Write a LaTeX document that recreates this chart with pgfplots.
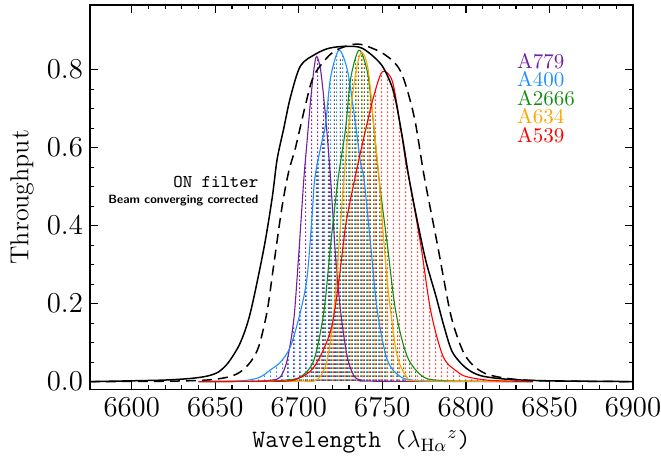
\documentclass[border=0pt]{standalone}
\usepackage{pgfplots}
\usepackage{pgfplotstable}
\pgfplotsset{compat=1.18}
\usetikzlibrary{patterns}
\definecolor{cpurple}{RGB}{112,32,160}
\definecolor{cblue}{RGB}{30,144,255}
\definecolor{cgreen}{RGB}{20,140,20}
\definecolor{corange}{RGB}{255,165,0}
\definecolor{cred}{RGB}{255,0,0}

\pgfdeclarepatternformonly{vdA}{\pgfqpoint{0pt}{0pt}}{\pgfqpoint{3pt}{2pt}}{\pgfqpoint{3pt}{2pt}}{\pgfpathrectangle{\pgfqpoint{0.0pt}{0pt}}{\pgfqpoint{0.55pt}{0.8pt}}\pgfusepath{fill}}
\pgfdeclarepatternformonly{vdB}{\pgfqpoint{0pt}{0pt}}{\pgfqpoint{3pt}{2pt}}{\pgfqpoint{3pt}{2pt}}{\pgfpathrectangle{\pgfqpoint{0.5pt}{0pt}}{\pgfqpoint{0.55pt}{0.8pt}}\pgfusepath{fill}}
\pgfdeclarepatternformonly{vdC}{\pgfqpoint{0pt}{0pt}}{\pgfqpoint{3pt}{2pt}}{\pgfqpoint{3pt}{2pt}}{\pgfpathrectangle{\pgfqpoint{1.0pt}{0pt}}{\pgfqpoint{0.55pt}{0.8pt}}\pgfusepath{fill}}
\pgfdeclarepatternformonly{vdD}{\pgfqpoint{0pt}{0pt}}{\pgfqpoint{3pt}{2pt}}{\pgfqpoint{3pt}{2pt}}{\pgfpathrectangle{\pgfqpoint{1.5pt}{0pt}}{\pgfqpoint{0.55pt}{0.8pt}}\pgfusepath{fill}}
\pgfdeclarepatternformonly{vdE}{\pgfqpoint{0pt}{0pt}}{\pgfqpoint{3pt}{2pt}}{\pgfqpoint{3pt}{2pt}}{\pgfpathrectangle{\pgfqpoint{2.0pt}{0pt}}{\pgfqpoint{0.55pt}{0.8pt}}\pgfusepath{fill}}
\pgfdeclarepatternformonly{vdF}{\pgfqpoint{0pt}{0pt}}{\pgfqpoint{3pt}{2pt}}{\pgfqpoint{3pt}{2pt}}{\pgfpathrectangle{\pgfqpoint{2.45pt}{0pt}}{\pgfqpoint{0.45pt}{0.8pt}}\pgfusepath{fill}}

\pgfplotstableread{
x y
6575 0.000
6600 0.002
6620 0.004
6635 0.008
6645 0.014
6652 0.025
6658 0.050
6665 0.100
6671 0.177
6679 0.340
6684 0.470
6687 0.570
6691 0.650
6695 0.730
6701 0.810
6710 0.840
6718 0.855
6728 0.860
6738 0.855
6749 0.815
6755 0.765
6758 0.720
6761 0.650
6763 0.600
6766 0.520
6771 0.410
6776 0.310
6782 0.220
6787 0.140
6792 0.075
6800 0.035
6809 0.015
6825 0.006
6850 0.002
6900 0.000
}\onfilter

\pgfplotstableread{
x y
6575 0.000
6620 0.001
6645 0.004
6658 0.012
6665 0.025
6671 0.050
6676 0.090
6681 0.180
6685 0.300
6690 0.450
6694 0.540
6698 0.600
6704 0.710
6709 0.785
6719 0.840
6728 0.860
6737 0.865
6751 0.840
6761 0.795
6769 0.680
6775 0.527
6783 0.350
6791 0.170
6798 0.080
6804 0.043
6812 0.020
6825 0.008
6845 0.002
6900 0.000
}\onbeam

\pgfplotstableread{
x y
6640 0.000
6675 0.001
6684 0.004
6689 0.012
6693 0.055
6697 0.160
6700 0.330
6703 0.520
6705 0.620
6707 0.720
6709 0.800
6710.6 0.834
6713 0.800
6716 0.680
6719 0.520
6722 0.320
6725 0.180
6729 0.063
6733 0.015
6737 0.004
6745 0.001
6840 0.000
}\fA

\pgfplotstableread{
x y
6640 0.000
6660 0.001
6670 0.004
6677 0.012
6683 0.030
6689 0.050
6695 0.090
6701 0.180
6705 0.270
6708 0.430
6709.5 0.520
6713 0.600
6716 0.660
6719 0.780
6724 0.850
6729 0.800
6733 0.690
6737 0.560
6739 0.520
6743 0.350
6747 0.180
6753 0.055
6761 0.012
6770 0.003
6780 0.001
6840 0.000
}\fB

\pgfplotstableread{
x y
6640 0.000
6680 0.001
6692 0.004
6701 0.012
6709 0.055
6715 0.180
6719 0.350
6723.5 0.520
6728 0.650
6731 0.777
6736 0.850
6741 0.795
6744 0.690
6748 0.520
6753 0.350
6758 0.180
6765 0.063
6774.5 0.012
6785 0.003
6800 0.001
6840 0.000
}\fC

\pgfplotstableread{
x y
6640 0.000
6700 0.001
6711 0.005
6717 0.055
6721 0.180
6724 0.350
6727 0.520
6730 0.660
6734 0.790
6737.5 0.845
6741.5 0.800
6745 0.650
6748 0.520
6752 0.300
6755 0.180
6759 0.063
6765 0.010
6772 0.002
6840 0.000
}\fD

\pgfplotstableread{
x y
6640 0.000
6680 0.001
6697 0.004
6709 0.037
6719 0.130
6724 0.260
6728 0.400
6732.5 0.500
6737 0.590
6741 0.665
6745 0.735
6750 0.795
6756 0.770
6761 0.648
6764 0.563
6766 0.520
6773 0.350
6779 0.180
6786.5 0.063
6795 0.025
6801 0.012
6815 0.003
6840 0.000
}\fE

\pgfplotstableread{
x y
6707 0.000
6708 0.450
6712 0.620
6716 0.700
6720 0.800
6724 0.840
6728 0.800
6732 0.780
6736 0.840
6740 0.810
6744 0.700
6748 0.520
6750 0.450
6751 0.000
}\fK

\begin{document}
\begin{tikzpicture}
\begin{axis}[
  name=ax,
  scale only axis, width=271.5pt, height=192.2pt,
  xmin=6575, xmax=6900, ymin=-0.02, ymax=0.966,
  xtick={6600,6650,6700,6750,6800,6850,6900}, minor x tick num=4,
  ytick={0,0.2,0.4,0.6,0.8}, minor y tick num=3,
  tick pos=both, tick align=inside,
  major tick length=4pt, minor tick length=2pt,
  axis line style={line width=0.75pt},
  tick style={black, line width=0.6pt},
  tick label style={font=\fontsize{13.5}{15}\selectfont},
  yticklabel style={/pgf/number format/.cd, fixed, fixed zerofill, precision=1},
  xticklabel style={/pgf/number format/1000 sep={}, yshift=-3pt, inner sep=1pt},
  xlabel={Wavelength ($\lambda_{\mathrm{H}\alpha}{}^{z}$)},
  xlabel style={at={(axis description cs:0.5,-0.135)}, anchor=center, inner sep=0pt, font=\ttfamily\fontsize{12.5}{14}\selectfont},
  ylabel={Throughput},
  ylabel style={at={(axis description cs:-0.125,0.5)}, anchor=center, font=\fontsize{13}{15}\selectfont},
]
\addplot[draw=none, pattern=vdF, pattern color=black!70] table[x=x,y=y] {\fK} \closedcycle;
\addplot[draw=none, smooth, pattern=vdA, pattern color=cpurple] table[x=x,y=y] {\fA} \closedcycle;
\addplot[draw=none, smooth, pattern=vdB, pattern color=cblue] table[x=x,y=y] {\fB} \closedcycle;
\addplot[draw=none, smooth, pattern=vdC, pattern color=cgreen] table[x=x,y=y] {\fC} \closedcycle;
\addplot[draw=none, smooth, pattern=vdD, pattern color=corange] table[x=x,y=y] {\fD} \closedcycle;
\addplot[draw=none, smooth, pattern=vdE, pattern color=cred!75] table[x=x,y=y] {\fE} \closedcycle;

\addplot[cpurple, line width=0.55pt, smooth] table[x=x,y=y] {\fA};
\addplot[cblue, line width=0.55pt, smooth] table[x=x,y=y] {\fB};
\addplot[cgreen, line width=0.55pt, smooth] table[x=x,y=y] {\fC};
\addplot[corange, line width=0.55pt, smooth] table[x=x,y=y] {\fD};
\addplot[cred, line width=0.55pt, smooth] table[x=x,y=y] {\fE};
\addplot[black, line width=0.75pt, smooth] table[x=x,y=y] {\onfilter};
\addplot[black, line width=0.75pt, smooth, dash pattern=on 5pt off 3pt] table[x=x,y=y] {\onbeam};

\node[anchor=base east, font=\ttfamily\fontsize{9}{10}\selectfont] at (axis cs:6680,0.499) {ON filter};
\node[anchor=base east, font=\sffamily\bfseries\fontsize{6}{7}\selectfont] at (axis cs:6680,0.457) {Beam converging corrected};

\node[anchor=base west, text=cpurple, font=\fontsize{10.5}{11}\selectfont, inner sep=0pt] at (axis cs:6830.4,0.804) {A779};
\node[anchor=base west, text=cblue, font=\fontsize{10.5}{11}\selectfont, inner sep=0pt] at (axis cs:6830.4,0.756) {A400};
\node[anchor=base west, text=cgreen, font=\fontsize{10.5}{11}\selectfont, inner sep=0pt] at (axis cs:6830.4,0.709) {A2666};
\node[anchor=base west, text=corange, font=\fontsize{10.5}{11}\selectfont, inner sep=0pt] at (axis cs:6830.4,0.661) {A634};
\node[anchor=base west, text=cred, font=\fontsize{10.5}{11}\selectfont, inner sep=0pt] at (axis cs:6830.4,0.613) {A539};
\end{axis}
\path (ax.south west) ++(-45pt,-35.8pt) coordinate (bl);
\path (ax.north east) ++(14pt,2.5pt) coordinate (tr);
\pgfresetboundingbox
\path (bl) rectangle (tr);
\end{tikzpicture}
\end{document}
